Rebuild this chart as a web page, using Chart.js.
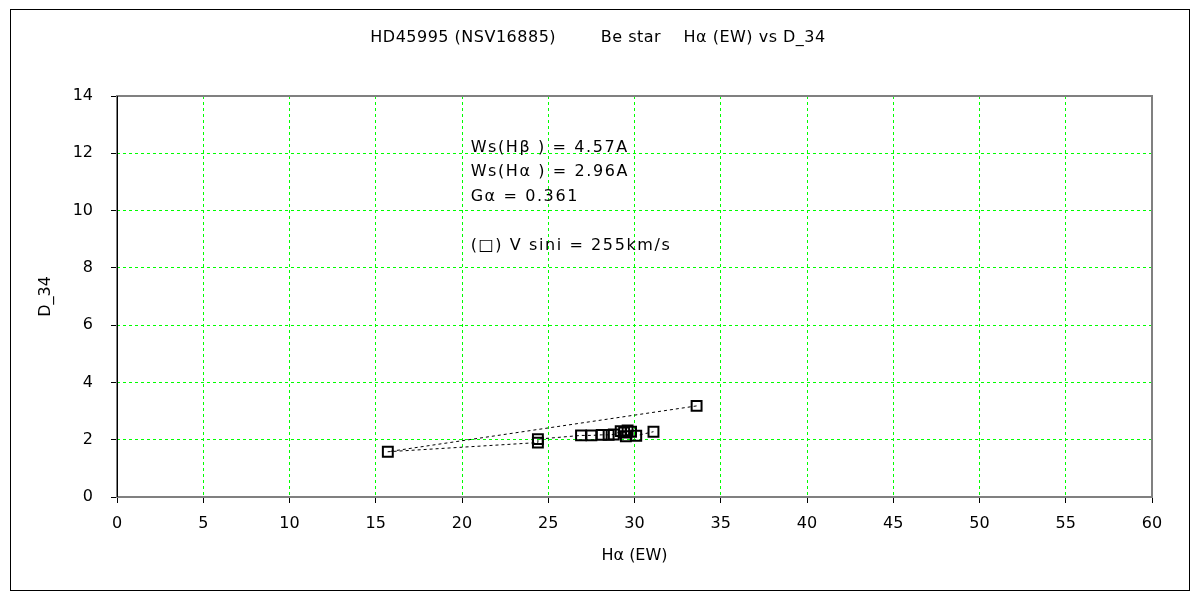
<!DOCTYPE html>
<html>
<head>
<meta charset="utf-8">
<script src="https://cdn.jsdelivr.net/npm/chart.js@4"></script>
<style>
  html, body { margin: 0; padding: 0; background: #fff; }
  #wrap { width: 1200px; height: 600px; }
</style>
</head>
<body>
<div id="wrap"><canvas id="chart" width="1200" height="600"></canvas></div>
<script>
// H-alpha equivalent width vs D_34, in observation order
const haEW = [33.6, 15.7, 24.4, 24.4, 26.9, 27.5, 28.1, 28.5, 28.8, 29.2, 29.4, 29.6, 29.8, 29.5, 30.1, 31.1];
const d34  = [3.18, 1.58, 1.90, 2.02, 2.15, 2.15, 2.17, 2.17, 2.18, 2.30, 2.25, 2.32, 2.28, 2.12, 2.14, 2.28];

const xTicks = [0, 5, 10, 15, 20, 25, 30, 35, 40, 45, 50, 55, 60];
const yTicks = [0, 2, 4, 6, 8, 10, 12, 14];

const titleText = 'HD45995 (NSV16885)        Be star    H\u03B1 (EW) vs D_34';
const notes = ['Ws(H\u03B2 ) = 4.57A', 'Ws(H\u03B1 ) = 2.96A', 'G\u03B1 = 0.361', '', '(\u25A1) V sini = 255km/s'];

const FONT = "'DejaVu Sans', 'Liberation Sans', sans-serif";

let points = [];
for (let i = 0; i < haEW.length; i++) {
  points.push({ x: haEW[i], y: d34[i] });
}

const frame = {
  id: 'frame',
  beforeDraw(chart) {
    const c = chart.ctx;
    c.save();
    c.fillStyle = '#fff';
    c.fillRect(0, 0, chart.width, chart.height);
    c.restore();
  },
  afterDatasetsDraw(chart) {
    const c = chart.ctx;
    const a = chart.chartArea;
    c.save();
    // plot area box
    c.strokeStyle = '#808080';
    c.lineWidth = 2;
    c.strokeRect(a.left, a.top, a.right - a.left, a.bottom - a.top);
    c.strokeStyle = '#000';
    c.lineWidth = 1;
    c.beginPath();
    c.moveTo(a.left + 0.5, a.top);
    c.lineTo(a.left + 0.5, a.bottom);
    c.stroke();
    // outer border
    c.strokeRect(10.5, 9.5, 1179, 581);

    c.fillStyle = '#000';
    c.font = '16px ' + FONT;
    c.textBaseline = 'middle';
    // title
    c.textAlign = 'center';
    c.letterSpacing = '0.5px';
    c.fillText(titleText, 598, 38);
    // notes
    c.textAlign = 'left';
    c.letterSpacing = '1.6px';
    const xs = chart.scales.x, ys = chart.scales.y;
    let x0 = xs.getPixelForValue(20.5);
    let y0 = ys.getPixelForValue(12.2);
    for (let i = 0; i < notes.length; i++) {
      c.fillText(notes[i], x0, y0 + i * 24.5);
    }
    c.restore();
  }
};

new Chart(document.getElementById('chart'), {
  type: 'scatter',
  data: {
    datasets: [{
      data: points,
      showLine: true,
      borderColor: '#000',
      borderWidth: 1,
      borderDash: [3, 3],
      pointStyle: 'rect',
      pointRadius: 7,
      pointBorderWidth: 2,
      pointBorderColor: '#000',
      pointBackgroundColor: 'rgba(0,0,0,0)'
    }]
  },
  options: {
    responsive: false,
    animation: false,
    devicePixelRatio: 1,
    layout: { padding: { left: 0, right: 48, top: 96, bottom: 0 } },
    plugins: {
      legend: { display: false },
      tooltip: { enabled: false },
      title: { display: false }
    },
    scales: {
      x: {
        type: 'linear',
        min: 0, max: 60,
        afterBuildTicks(s) { s.ticks = xTicks.map(v => ({ value: v })); },
        afterFit(s) { s.height = 103; },
        grid: {
          color: '#00ff00',
          tickColor: '#000',
          tickLength: 6,
          lineWidth: 1
        },
        border: { display: false, dash: [3, 3] },
        ticks: { color: '#000', padding: 11, font: { family: FONT, size: 16 } },
        title: {
          display: true, text: 'H\u03B1 (EW)', color: '#000',
          font: { family: FONT, size: 16 },
          padding: { top: 0, bottom: 35 }
        }
      },
      y: {
        type: 'linear',
        min: 0, max: 14,
        afterBuildTicks(s) { s.ticks = yTicks.map(v => ({ value: v })); },
        afterFit(s) { s.width = 117; },
        grid: {
          color: '#00ff00',
          tickColor: '#000',
          tickLength: 6,
          lineWidth: 1
        },
        border: { display: false, dash: [3, 3] },
        ticks: { color: '#000', padding: 18, font: { family: FONT, size: 16 } },
        title: {
          display: true, text: 'D_34', color: '#000',
          font: { family: FONT, size: 16 },
          padding: { top: 36, bottom: 0 }
        }
      }
    }
  },
  plugins: [frame]
});
</script>
</body>
</html>
